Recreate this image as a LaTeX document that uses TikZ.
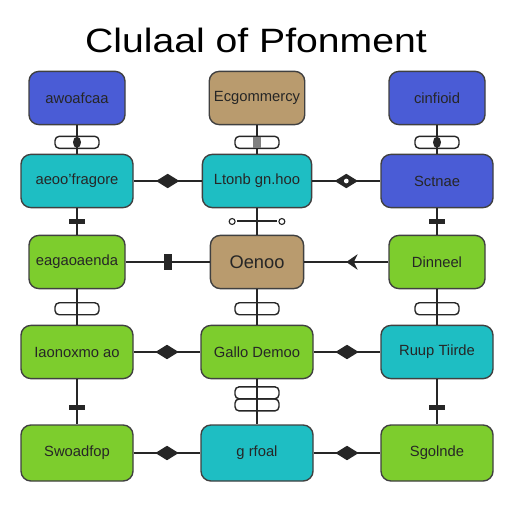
\documentclass[tikz,border=0pt]{standalone}
\usepackage{fontspec}
\setmainfont{Liberation Sans}
\usetikzlibrary{shapes.geometric,decorations.markings,arrows.meta}

\definecolor{boxblue}{HTML}{4A5CD6}
\definecolor{boxteal}{HTML}{1EBEC3}
\definecolor{boxgreen}{HTML}{7DCD2D}
\definecolor{boxtan}{HTML}{B99B6E}

\begin{document}
\begin{tikzpicture}[thick,node distance=4.5cm,
    box/.style={rectangle,rounded corners=7pt,draw=black!75,line width=1pt,minimum height=1.33cm,text=black!85,font=\fontsize{10.5}{12}\selectfont},
    narrow/.style={box,minimum width=2.4cm},
    wide/.style={box,minimum width=2.8cm},
    vline/.style={line width=1.9pt,draw=black!85},
    hline/.style={line width=1.3pt,draw=black!85},
    loopmark/.style={draw=black!85,rounded corners=3pt,line width=1pt,minimum width=1.1cm,minimum height=0.3cm,inner sep=0pt},
    knob/.style={ellipse,fill=black!85,minimum width=0.2cm,minimum height=0.28cm,inner sep=0pt},
    tickmark/.style={rectangle,fill=black!85,minimum width=0.4cm,minimum height=0.12cm,inner sep=0pt},
    joint/.style={diamond,aspect=1.6,fill=black!85,minimum width=0.6cm,minimum height=0.38cm,inner sep=0pt},
    clamp/.style={rectangle,fill=black!85,minimum width=0.2cm,minimum height=0.42cm,inner sep=0pt},
    tip/.style={postaction={decorate},decoration={markings,mark=at position 0.5 with {\arrow{Stealth[length=8pt,width=11pt]}}}}]

  \useasboundingbox (0,0) rectangle (12.8,-12.8);
  \node[font=\fontsize{24}{28}\selectfont,transform shape,xscale=1.16] (title) at (6.4,-1.0) {Clulaal of Pfonment};

  % top row
  \node[narrow,fill=boxblue] (1) at (1.925,-2.45) {awoafcaa};
  \node[narrow,fill=boxtan,minimum width=2.33cm] (2) [right of=1] {Ecgommercy};
  \node[narrow,fill=boxblue] (3) [right of=2] {cinfioid};

  \node[wide,fill=boxteal] (4) [node distance=2.075cm,below of=1] {aeoo'fragore};
  \node[wide,fill=boxteal,minimum width=2.73cm] (5) [node distance=2.075cm,below of=2] {Ltonb gn.hoo};
  \node[wide,fill=boxblue] (6) [node distance=2.075cm,below of=3] {Sctnae};

  \node[narrow,fill=boxgreen] (7) [node distance=2.025cm,below of=4] {eagaoaenda};
  \node[narrow,fill=boxtan,minimum width=2.33cm,font=\fontsize{13}{15}\selectfont] (8) [node distance=2.025cm,below of=5] {Oenoo};
  \node[narrow,fill=boxgreen] (9) [node distance=2.025cm,below of=6] {Dinneel};

  \node[wide,fill=boxgreen] (10) [node distance=2.25cm,below of=7] {Iaonoxmo ao};
  \node[wide,fill=boxgreen] (11) [node distance=2.25cm,below of=8] {Gallo Demoo};
  \node[wide,fill=boxteal] (12) [node distance=2.25cm,below of=9] {Ruup Tiirde};

  \node[wide,fill=boxgreen,minimum height=1.4cm] (13) [node distance=2.525cm,below of=10] {Swoadfop};
  \node[wide,fill=boxteal,minimum height=1.4cm] (14) [node distance=2.525cm,below of=11] {g rfoal};
  \node[wide,fill=boxgreen,minimum height=1.4cm] (15) [node distance=2.525cm,below of=12] {Sgolnde};

  % columns
  \path[every edge/.style={vline}]
    (1) edge node[pos=0.6,loopmark] {} node[pos=0.6,knob] {} (4)
    (2) edge node[pos=0.6,loopmark] {} node[pos=0.6,knob,rectangle,fill=gray] {} (5)
    (3) edge node[pos=0.6,loopmark] {} node[pos=0.6,knob] {} (6)
    (4) edge node[tickmark] {} (7)
    (5) edge node[tickmark,minimum width=1.0cm,minimum height=0.05cm,
                  label={[circle,draw,inner sep=1.5pt,line width=0.8pt]west:},
                  label={[circle,draw,inner sep=1.5pt,line width=0.8pt]east:}] {} (8)
    (6) edge node[tickmark] {} (9)
    (7) edge node[pos=0.55,loopmark] {} (10)
    (8) edge node[pos=0.55,loopmark] {} (11)
    (9) edge node[pos=0.55,loopmark] {} (12)
    (10) edge node[pos=0.63,tickmark] {} (13)
    (11) edge node[pos=0.3,loopmark] {} node[pos=0.57,loopmark] {} (14)
    (12) edge node[pos=0.63,tickmark] {} (15);

  % rows
  \path[every edge/.style={hline}]
    (4) edge node[joint] {} (5)
    (5) edge node[joint] {} node[circle,fill=white,inner sep=1.2pt] {} (6)
    (7) edge node[clamp] {} (8)
    (9) edge[tip] (8)
    (10) edge node[joint] {} (11)
    (11) edge node[joint] {} (12)
    (13) edge node[joint] {} (14)
    (14) edge node[joint] {} (15);
\end{tikzpicture}
\end{document}
